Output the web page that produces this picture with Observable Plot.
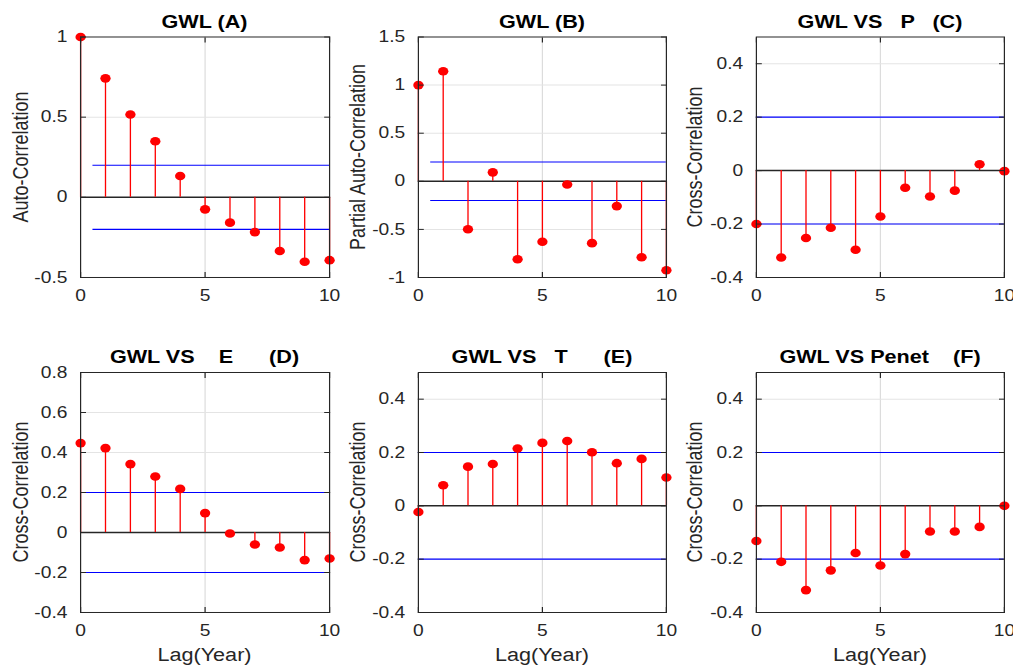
<!DOCTYPE html>
<html>
<head>
<meta charset="utf-8">
<script src="https://cdn.jsdelivr.net/npm/d3@7"></script>
<script src="https://cdn.jsdelivr.net/npm/@observablehq/plot@0.6"></script>
<style>
  html, body { margin: 0; padding: 0; background: #fff; }
  #outer { width: 1013px; height: 666px; overflow: hidden; position: relative; }
  #fig { position: absolute; left: 0; top: 0; height: 666px; transform-origin: 0 0;
         font-family: "Liberation Sans", Arial, sans-serif; }
  .panel { position: absolute; }
  .title { position: absolute; font-weight: bold; font-size: 18px; line-height: 18px;
           white-space: pre; color: #000; transform: translateX(-50%); }
  .ylab { position: absolute; font-size: 18px; line-height: 18px; white-space: pre; color: #262626;
          transform: translate(-50%, -50%) rotate(-90deg); }
  .xlab { position: absolute; font-size: 18px; line-height: 18px; white-space: pre; color: #262626;
          transform: translate(-50%, -50%); }
</style>
</head>
<body>
<div id="outer"><div id="fig"></div></div>
<script>
// ---------------- data ----------------
const lags = [0, 1, 2, 3, 4, 5, 6, 7, 8, 9, 10];

const acfA  = [1.0, 0.742, 0.517, 0.35, 0.133, -0.075, -0.158, -0.217, -0.335, -0.402, -0.392];
const pacfB = [1.0, 1.144, -0.498, 0.093, -0.811, -0.629, -0.034, -0.643, -0.258, -0.79, -0.924];
const ccfC  = [-0.2, -0.325, -0.252, -0.214, -0.296, -0.172, -0.064, -0.097, -0.075, 0.024, -0.002];
const ccfD  = [0.447, 0.422, 0.342, 0.28, 0.218, 0.097, -0.005, -0.06, -0.075, -0.138, -0.13];
const ccfE  = [-0.023, 0.077, 0.147, 0.157, 0.215, 0.236, 0.243, 0.201, 0.16, 0.176, 0.106];
const ccfF  = [-0.132, -0.21, -0.316, -0.242, -0.177, -0.224, -0.181, -0.096, -0.096, -0.079, 0.0];

const series = [acfA, pacfB, ccfC, ccfD, ccfE, ccfF];

const titles = ["GWL (A)", "GWL (B)", "GWL VS   P   (C)",
                "GWL VS    E      (D)", "GWL VS   T      (E)", "GWL VS Penet    (F)"];
const yLabels = ["Auto-Correlation", "Partial Auto-Correlation", "Cross-Correlation",
                 "Cross-Correlation", "Cross-Correlation", "Cross-Correlation"];
const xLabel = "Lag(Year)";

const yDomains = [[-0.5, 1], [-1, 1.5], [-0.4, 0.5], [-0.4, 0.8], [-0.4, 0.5], [-0.4, 0.5]];
const yTicks = [
  [-0.5, 0, 0.5, 1],
  [-1, -0.5, 0, 0.5, 1, 1.5],
  [-0.4, -0.2, 0, 0.2, 0.4],
  [-0.4, -0.2, 0, 0.2, 0.4, 0.6, 0.8],
  [-0.4, -0.2, 0, 0.2, 0.4],
  [-0.4, -0.2, 0, 0.2, 0.4]
];
const yTickLabels = [
  ["-0.5", "0", "0.5", "1"],
  ["-1", "-0.5", "0", "0.5", "1", "1.5"],
  ["-0.4", "-0.2", "0", "0.2", "0.4"],
  ["-0.4", "-0.2", "0", "0.2", "0.4", "0.6", "0.8"],
  ["-0.4", "-0.2", "0", "0.2", "0.4"],
  ["-0.4", "-0.2", "0", "0.2", "0.4"]
];
const xTicks = [0, 5, 10];
const xTickLabels = ["0", "5", "10"];
const bounds = [0.2, -0.2];
const boundStart = [0.5, 0.5, 0, 0, 0, 0];
const boundEnd = 10;

// ---------------- layout ----------------
const S = 1.2; // horizontal stretch of the whole figure
const fig = document.getElementById("fig");
fig.style.width = (1013 / S) + "px";
fig.style.transform = `scaleX(${S})`;

const colSvgL = [0, 335, 671], colSvgR = [335, 671, 1013];
const colPlotL = [80, 418, 756], colPlotR = [329, 666, 1004];
const rowSvgT = [0, 330], rowSvgH = [318, 336];
const rowPlotT = [36.5, 372], rowPlotB = [277, 612];
const yLabX = [20, 357, 695];
const titleY = [13, 348];

const FONT = '"Liberation Sans", Arial, sans-serif';

for (let i = 0; i < 6; i++) {
  const c = i % 3, r = Math.floor(i / 3);
  const data = lags.map((lag, j) => ({lag, v: series[i][j]}));
  const svgL = colSvgL[c] / S, svgW = (colSvgR[c] - colSvgL[c]) / S;
  const mL = colPlotL[c] / S - svgL;
  const mR = svgL + svgW - colPlotR[c] / S;
  const mT = rowPlotT[r] - rowSvgT[r];
  const mB = rowSvgT[r] + rowSvgH[r] - rowPlotB[r];
  const tl = yTickLabels[i];
  const yt = yTicks[i];

  const chart = Plot.plot({
    width: svgW,
    height: rowSvgH[r],
    marginLeft: mL, marginRight: mR, marginTop: mT, marginBottom: mB,
    style: {fontFamily: FONT, fontSize: "16px", color: "#262626", background: "transparent", overflow: "visible"},
    x: {domain: [0, 10]},
    y: {domain: yDomains[i]},
    marks: [
      Plot.gridX(xTicks.filter(d => d > 0 && d < 10), {stroke: "#dcdcdc", strokeOpacity: 1}),
      Plot.gridY(yt.filter(d => d !== 0 && d > yDomains[i][0] && d < yDomains[i][1]), {stroke: "#e4e4e4", strokeOpacity: 1}),
      Plot.ruleY(bounds, {x1: boundStart[i], x2: boundEnd, stroke: "#0000ff", strokeWidth: 1.1}),
      Plot.ruleY([0], {stroke: "#262626", strokeWidth: 1.5}),
      Plot.ruleX(data, {x: "lag", y1: 0, y2: "v", stroke: "#ff0000", strokeWidth: 1.1}),
      Plot.dot(data, {x: "lag", y: "v", r: 4.3, fill: "#ff0000", stroke: "none"}),
      Plot.frame({stroke: "#262626", strokeWidth: 1}),
      Plot.axisX({ticks: xTicks, tickFormat: (d, k) => xTickLabels[k], tickSize: -5, tickPadding: 17, label: null, stroke: "#262626"}),
      Plot.axisX({anchor: "top", ticks: xTicks, tickFormat: () => "", tickSize: -5, label: null, stroke: "#262626"}),
      Plot.axisY({ticks: yt, tickFormat: (d, k) => tl[k], tickSize: -5, tickPadding: 16, label: null, stroke: "#262626"}),
      Plot.axisY({anchor: "right", ticks: yt, tickFormat: () => "", tickSize: -5, label: null, stroke: "#262626"})
    ]
  });
  const wrap = document.createElement("div");
  wrap.className = "panel";
  wrap.style.left = svgL + "px";
  wrap.style.top = rowSvgT[r] + "px";
  wrap.appendChild(chart);
  fig.appendChild(wrap);

  const cx = (colPlotL[c] + colPlotR[c]) / 2 / S;
  const t = document.createElement("div");
  t.className = "title";
  t.textContent = titles[i];
  t.style.left = cx + "px";
  t.style.top = titleY[r] + "px";
  fig.appendChild(t);

  const yl = document.createElement("div");
  yl.className = "ylab";
  yl.textContent = yLabels[i];
  yl.style.left = (yLabX[c] / S) + "px";
  yl.style.top = ((rowPlotT[r] + rowPlotB[r]) / 2) + "px";
  fig.appendChild(yl);

  if (r === 1) {
    const xl = document.createElement("div");
    xl.className = "xlab";
    xl.textContent = xLabel;
    xl.style.left = cx + "px";
    xl.style.top = "655px";
    fig.appendChild(xl);
  }
}
</script>
</body>
</html>
